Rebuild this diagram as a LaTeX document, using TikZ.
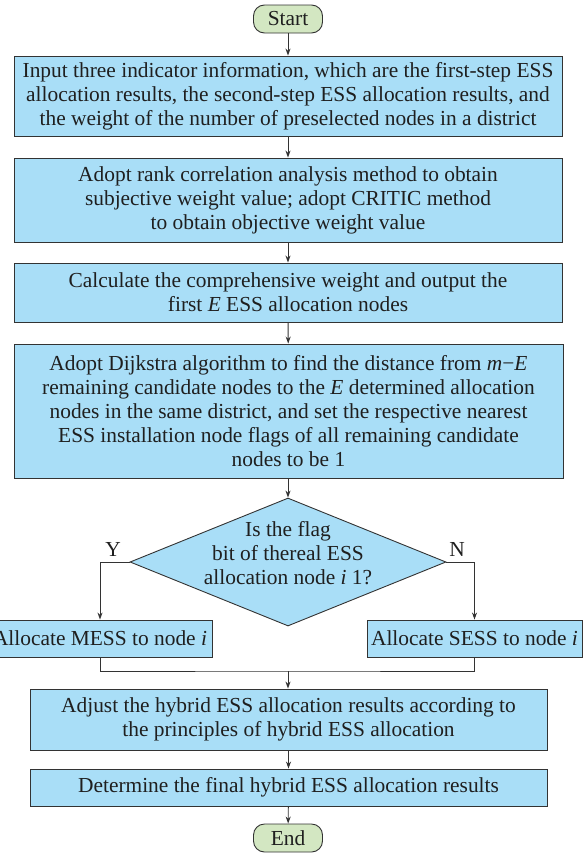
\documentclass[tikz,border=0pt]{standalone}
\usepackage{fontspec}
\setmainfont{Liberation Serif}
\usetikzlibrary{shapes.geometric,arrows.meta}
\definecolor{boxblue}{HTML}{A9DEF7}
\definecolor{termgreen}{HTML}{D3E7C2}
\definecolor{edgegray}{HTML}{333333}
\tikzset{
  every picture/.style={x=1pt,y=-1pt},
  txt/.style={font=\fontsize{21.4pt}{24pt}\selectfont, text=black!88},
  procbox/.style={txt, draw=edgegray, line width=0.9pt, fill=boxblue, inner sep=0pt, align=center, rectangle},
  termbox/.style={txt, draw=edgegray, line width=0.9pt, fill=termgreen, inner sep=0pt, rounded corners=11pt, rectangle, minimum width=69pt, minimum height=28pt},
  decbox/.style={draw=edgegray, line width=0.9pt, fill=boxblue, diamond, inner sep=0pt, minimum width=316pt, minimum height=128pt},
  flow/.style={draw=edgegray, line width=0.9pt, -{Stealth[length=7pt,width=5pt]}},
  link/.style={draw=edgegray, line width=0.9pt}
}
\begin{document}
\begin{tikzpicture}
\useasboundingbox (0,0) rectangle (585,854);
\node[termbox] (start) at (288,19) {Start};
\node[procbox, minimum width=548pt, minimum height=80pt] (b1) at (288,96)
  {Input three indicator information, which are the first-step ESS\\allocation results, the second-step ESS allocation results, and\\the weight of the number of preselected nodes in a district};
\node[procbox, minimum width=548pt, minimum height=84pt] (b2) at (288,200)
  {Adopt rank correlation analysis method to obtain\\subjective weight value; adopt CRITIC method\\to obtain objective weight value};
\node[procbox, minimum width=548pt, minimum height=59pt] (b3) at (288,292.5)
  {Calculate the comprehensive weight and output the\\first \textit{E} ESS allocation nodes};
\node[procbox, minimum width=549pt, minimum height=134pt] (b4) at (288.5,411)
  {Adopt Dijkstra algorithm to find the distance from \textit{m}−\textit{E}\\remaining candidate nodes to the \textit{E} determined allocation\\nodes in the same district, and set the respective nearest\\ESS installation node flags of all remaining candidate\\nodes to be 1};
\node[decbox] (dec) at (288,562) {};
\node[txt, align=center] (dectext) at (288,553) {Is the flag\\bit of thereal ESS\\allocation node \textit{i} 1?};
\node[procbox, minimum width=224pt, minimum height=37pt] (mess) at (100,638.5) {Allocate MESS to node \textit{i}};
\node[procbox, minimum width=215pt, minimum height=37pt] (sess) at (474.5,638.5) {Allocate SESS to node \textit{i}};
\node[txt] (ylab) at (113,549) {Y};
\node[txt] (nlab) at (457,549) {N};
\coordinate (merge) at (288,671);
\node[procbox, minimum width=517pt, minimum height=61pt] (b5) at (288.5,719.5)
  {Adjust the hybrid ESS allocation results according to\\the principles of hybrid ESS allocation};
\node[procbox, minimum width=517pt, minimum height=37pt] (b6) at (288.5,787.5)
  {Determine the final hybrid ESS allocation results};
\node[termbox] (end) at (288,838) {End};

\draw[flow] (start) -- (b1);
\draw[flow] (b1) -- (b2);
\draw[flow] (b2) -- (b3);
\draw[flow] (b3) -- (b4);
\draw[flow] (b4.south -| dec.north) -- (dec.north);
\draw[flow] (dec.west) -| (mess.north);
\draw[flow] (dec.east) -| (sess.north);
\draw[link] (mess.south) |- (merge) -| (sess.south);
\draw[flow] (merge) -- (b5.north -| merge);
\draw[flow] (b5) -- (b6);
\draw[flow] (b6) -- (end);
\end{tikzpicture}
\end{document}
